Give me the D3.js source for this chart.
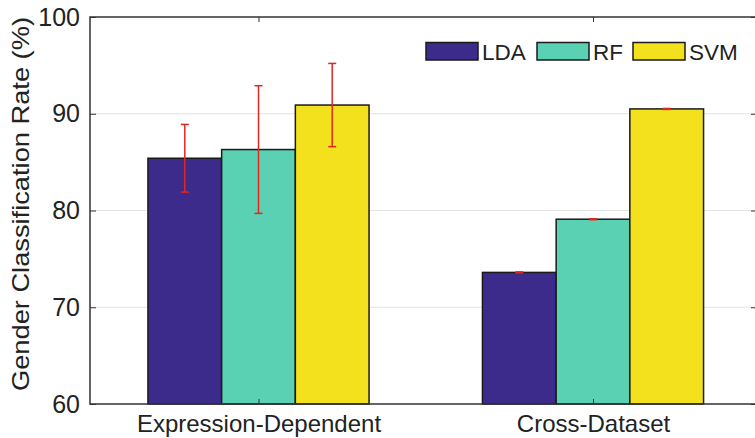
<!DOCTYPE html>
<html><head><meta charset="utf-8">
<script src="https://cdn.jsdelivr.net/npm/d3@7"></script>
<style>body{margin:0;background:#fff}svg{display:block}text{font-family:"Liberation Sans",Arial,sans-serif;fill:#222}</style>
</head><body><svg id="c" width="755" height="438"></svg>
<script>
const categories = ["Expression-Dependent", "Cross-Dataset"];
const seriesNames = ["LDA", "RF", "SVM"];
const LDA = [85.4, 73.6];
const RF = [86.3, 79.1];
const SVM = [90.9, 90.5];
const LDA_err = [3.5, 0.05];
const RF_err = [6.6, 0.05];
const SVM_err = [4.3, 0.05];
const yTicks = [60, 70, 80, 90, 100];
const colors = ["#3d2b8c", "#5bd1b3", "#f3e11e"];

const values = [LDA, RF, SVM];
const errs = [LDA_err, RF_err, SVM_err];
const svg = d3.select("#c");
const L = 90, R = 757, T = 17, B = 404;
const x = d3.scaleLinear().domain([0.5, 2.5]).range([91.25, 760.25]);
const y = d3.scaleLinear().domain([60, 100]).range([B, T]);
const groupW = 0.661;
const bw = groupW / 3;

// grid
svg.append("g").selectAll("line").data(yTicks.filter(t => t > 60 && t < 100)).join("line")
  .attr("x1", L).attr("x2", R).attr("y1", d => y(d)).attr("y2", d => y(d))
  .attr("stroke", "#e3e3e3").attr("stroke-width", 1);

// bars
categories.forEach((c, i) => {
  seriesNames.forEach((s, j) => {
    const x0 = x(i + 1 - groupW / 2 + j * bw);
    const x1 = x(i + 1 - groupW / 2 + (j + 1) * bw);
    svg.append("rect").attr("x", x0).attr("y", y(values[j][i]))
      .attr("width", x1 - x0).attr("height", y(60) - y(values[j][i]))
      .attr("fill", colors[j]).attr("stroke", "#1a1a1a").attr("stroke-width", 1.5);
  });
});
// error bars
categories.forEach((c, i) => {
  seriesNames.forEach((s, j) => {
    const cx = x(i + 1 - groupW / 2 + (j + 0.5) * bw);
    const v = values[j][i], e = errs[j][i];
    const g = svg.append("g").attr("stroke", "#e3261f").attr("stroke-width", 1.5);
    g.append("line").attr("x1", cx).attr("x2", cx).attr("y1", y(v + e)).attr("y2", y(v - e));
    g.append("line").attr("x1", cx - 4).attr("x2", cx + 4).attr("y1", y(v + e)).attr("y2", y(v + e));
    g.append("line").attr("x1", cx - 4).attr("x2", cx + 4).attr("y1", y(v - e)).attr("y2", y(v - e));
  });
});

// axes
const yAxis = d3.axisLeft(y).tickValues(yTicks).tickSize(-6).tickPadding(10);
const gy = svg.append("g").attr("transform", `translate(${L},0)`).call(yAxis);
gy.select(".domain").remove();
gy.selectAll("text").attr("font-size", 25).style("fill", "#222");
gy.selectAll("line").attr("stroke", "#333");
const gyr = svg.append("g").attr("transform", `translate(${R},0)`).call(d3.axisRight(y).tickValues(yTicks).tickSize(-6).tickFormat(""));
gyr.select(".domain").remove();
gyr.selectAll("line").attr("stroke", "#333");

const xAxis = d3.axisBottom(x).tickValues([1, 2]).tickFormat((d) => categories[d - 1]).tickSize(-5).tickPadding(11);
const gx = svg.append("g").attr("transform", `translate(0,${B})`).call(xAxis);
gx.select(".domain").remove();
gx.selectAll("text").attr("font-size", 24).style("fill", "#222");
gx.selectAll("line").attr("stroke", "#333");
const gxt = svg.append("g").attr("transform", `translate(0,${T})`).call(d3.axisTop(x).tickValues([1, 2]).tickSize(-5).tickFormat(""));
gxt.select(".domain").remove();
gxt.selectAll("line").attr("stroke", "#333");

svg.append("rect").attr("x", L).attr("y", T).attr("width", R - L).attr("height", B - T)
  .attr("fill", "none").attr("stroke", "#333").attr("stroke-width", 1.5);

svg.append("text").attr("transform", `translate(29,204) rotate(-90)`)
  .attr("text-anchor", "middle").attr("font-size", 24)
  .attr("textLength", 374).attr("lengthAdjust", "spacingAndGlyphs")
  .text("Gender Classification Rate (%)");

// legend
const legX = [426, 537, 633];
seriesNames.forEach((s, j) => {
  svg.append("rect").attr("x", legX[j]).attr("y", 42.5).attr("width", 52).attr("height", 17.5)
    .attr("fill", colors[j]).attr("stroke", "#1a1a1a").attr("stroke-width", 1.5);
  svg.append("text").attr("x", legX[j] + 56).attr("y", 59.5).attr("font-size", 22.5).text(s);
});
</script></body></html>
